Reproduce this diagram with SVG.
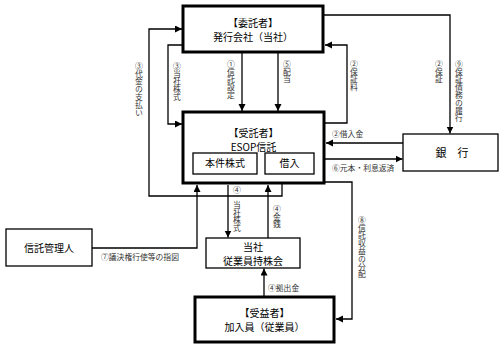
<svg xmlns="http://www.w3.org/2000/svg" width="503" height="347" viewBox="0 0 503 347">
<style>
.thick{fill:#fff;stroke:#000;stroke-width:3}
.thin{fill:#fff;stroke:#000;stroke-width:1.3}
.ln{fill:none;stroke:#000;stroke-width:1.3}
.bt{font-family:"Noto Sans CJK JP","Noto Sans CJK SC",sans-serif;font-size:10px;text-anchor:middle;fill:#000}
.lb{font-family:"Noto Sans CJK JP","Noto Sans CJK SC",sans-serif;font-size:7.8px;fill:#333}
.vt{font-family:"Noto Sans CJK JP","Noto Sans CJK SC",sans-serif;font-size:7.8px;fill:#333;writing-mode:vertical-rl}
</style>
<defs>
<marker id="ah" markerUnits="userSpaceOnUse" markerWidth="8" markerHeight="8" refX="7" refY="3.5" orient="auto">
<path d="M0,0 L7,3.5 L0,7 z" fill="#000"/>
</marker>
</defs>
<g id="connectors">
<path class="ln" d="M242,52 V111" marker-end="url(#ah)"/>
<path class="ln" d="M278,52 V111" marker-end="url(#ah)"/>
<path class="ln" d="M183,45 H168 V124 H182" marker-end="url(#ah)"/>
<path class="ln" d="M282,184 V196 H149 V29 H182" marker-end="url(#ah)"/>
<path class="ln" d="M324,123 H347 V45 H325" marker-end="url(#ah)"/>
<path class="ln" d="M323,15 H450 V133.5" marker-end="url(#ah)"/>
<path class="ln" d="M403,143 H326" marker-end="url(#ah)"/>
<path class="ln" d="M324,159 H402.5" marker-end="url(#ah)"/>
<path class="ln" d="M324,182 H352 V319 H336" marker-end="url(#ah)"/>
<path class="ln" d="M92,248 H197 V185" marker-end="url(#ah)"/>
<path class="ln" d="M228,185 V237.5" marker-end="url(#ah)"/>
<path class="ln" d="M268,238 V185" marker-end="url(#ah)"/>
<path class="ln" d="M264,296 V268.5" marker-end="url(#ah)"/>
<text class="vt" x="139" y="62">③代金の支払い</text>
<text class="vt" x="177" y="62">③当社株式</text>
<text class="vt" x="231" y="60">①信託設定</text>
<text class="vt" x="287" y="60">⑤配当</text>
<text class="vt" x="354" y="60">②保証料</text>
<text class="vt" x="439" y="60">②保証</text>
<text class="vt" x="459" y="60">⑨保証債務の履行</text>
<text class="lb" x="332" y="137">②借入金</text>
<text class="lb" x="332" y="171">⑥元本・利息返済</text>
<text class="vt" x="237" y="186">④</text>
<text class="vt" x="237" y="201">当社株式</text>
<text class="vt" x="277" y="205">④金銭</text>
<text class="vt" x="362" y="216">⑧信託収益の分配</text>
<text class="lb" x="101" y="260">⑦議決権行使等の指図</text>
<text class="lb" x="268" y="291">④拠出金</text>
</g>
<g id="itaku">
<rect class="thick" x="183" y="6" width="140" height="46"/>
<text class="bt" x="253" y="26.5">【委託者】</text>
<text class="bt" x="253" y="41">発行会社（当社）</text>
</g>
<g id="jutaku">
<rect class="thick" x="183" y="112" width="141" height="71"/>
<text class="bt" x="253.5" y="136.5">【受託者】</text>
<text class="bt" x="253.5" y="150.5">ESOP信託</text>
<g id="honken">
<rect class="thin" x="193" y="153" width="64" height="21"/>
<text class="bt" x="225" y="167">本件株式</text>
</g>
<g id="kariire">
<rect class="thin" x="265" y="153" width="49" height="21"/>
<text class="bt" x="289.5" y="167">借入</text>
</g>
</g>
<g id="bank">
<rect class="thin" x="403" y="134" width="95" height="37"/>
<text class="bt" x="452" y="156.5" style="font-size:11px">銀　行</text>
</g>
<g id="kanrinin">
<rect class="thin" x="6" y="229" width="86" height="37"/>
<text class="bt" x="49" y="251.5">信託管理人</text>
</g>
<g id="mochikabukai">
<rect class="thin" x="206" y="238" width="94" height="30"/>
<text class="bt" x="253" y="250.5">当社</text>
<text class="bt" x="253" y="264.5">従業員持株会</text>
</g>
<g id="kanyuin">
<rect class="thick" x="195" y="297" width="139" height="45"/>
<text class="bt" x="264.5" y="316.5">【受益者】</text>
<text class="bt" x="264.5" y="331">加入員（従業員）</text>
</g>
</svg>
